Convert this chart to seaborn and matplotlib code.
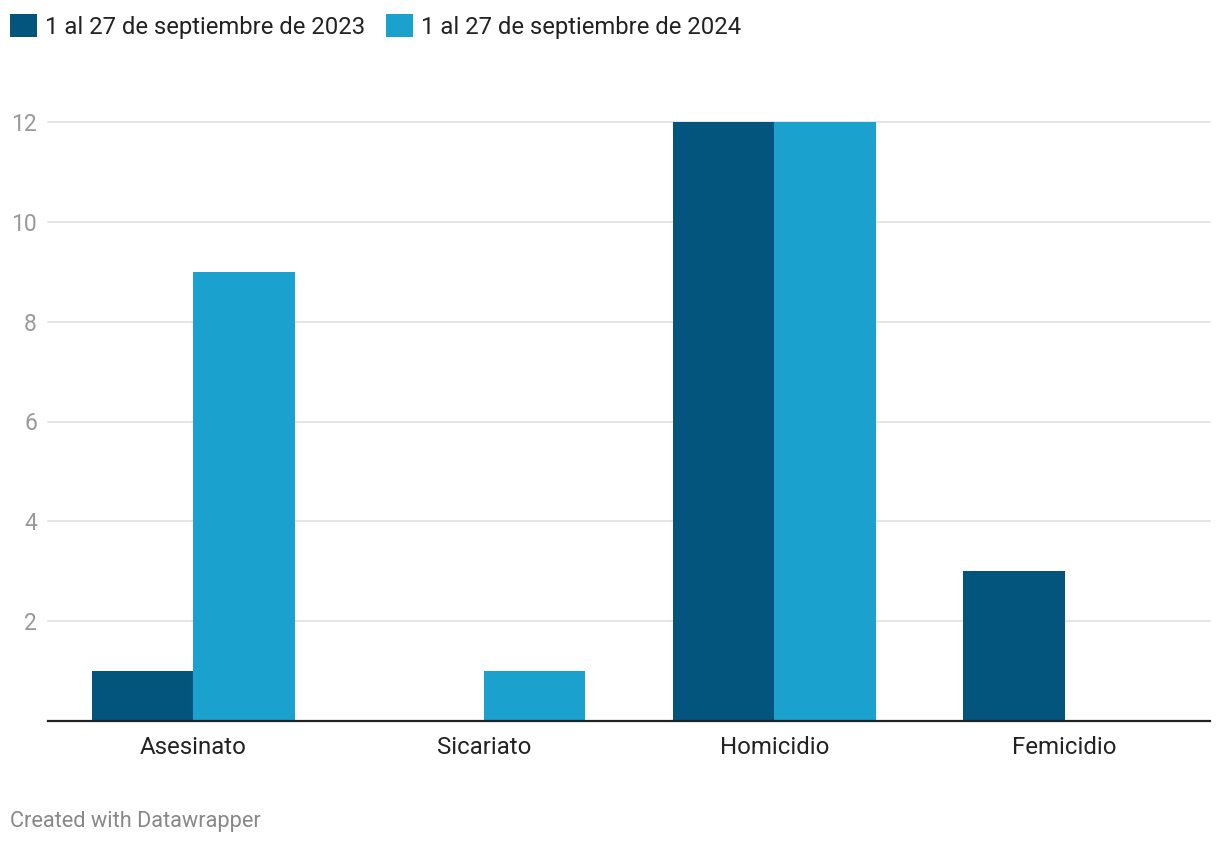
import pandas as pd
import matplotlib.pyplot as plt
import seaborn as sns
from matplotlib.patches import Patch

categories = ['Asesinato', 'Sicariato', 'Homicidio', 'Femicidio']
series_names = ['1 al 27 de septiembre de 2023', '1 al 27 de septiembre de 2024']
values_2023 = [1, 0, 12, 3]
values_2024 = [9, 1, 12, 0]
colors = ['#03557d', '#1aa1ce']
yticks = [2, 4, 6, 8, 10, 12]

df = pd.DataFrame({
    'categoria': categories * 2,
    'periodo': [series_names[0]] * 4 + [series_names[1]] * 4,
    'valor': values_2023 + values_2024,
})

sns.set_style('white')
plt.rcParams['font.family'] = ['Roboto', 'DejaVu Sans']

fig = plt.figure(figsize=(12.2, 8.44), dpi=100)
ax = fig.add_axes([48 / 1220, 1 - 721 / 844, (1210 - 48) / 1220, (721 - 122) / 844])

sns.barplot(data=df, x='categoria', y='valor', hue='periodo', palette=colors,
            width=0.7, dodge=True, saturation=1, legend=False, ax=ax)
for p in ax.patches:
    p.set_linewidth(0)

ax.set_xlim(-0.5, 3.5)
ax.set_ylim(0, 12)
ax.set_yticks(yticks)
ax.set_yticklabels([str(v) for v in yticks])
ax.yaxis.grid(True, color='#e0e0e0', linewidth=1.2)
ax.set_axisbelow(True)
for g in ax.get_ygridlines():
    g.set_clip_on(False)
ax.tick_params(axis='y', length=0, pad=8, labelsize=16.5, labelcolor='#999999')
ax.tick_params(axis='x', length=0, pad=11, labelsize=17.3, labelcolor='#222222')
ax.set_xlabel('')
ax.set_ylabel('')
for s in ['top', 'right', 'left']:
    ax.spines[s].set_visible(False)
ax.spines['bottom'].set_color('#222222')
ax.spines['bottom'].set_linewidth(1.6)

handles = [Patch(facecolor=c, edgecolor='none', label=n) for c, n in zip(colors, series_names)]
fig.legend(handles=handles, loc='upper left', bbox_to_anchor=(10 / 1220, 1 - 14 / 844), ncol=2,
           frameon=False, fontsize=17.2, handlelength=1.13, handleheight=1.13,
           handletextpad=0.33, columnspacing=0.88, borderpad=0, borderaxespad=0,
           labelcolor='#222222')

fig.text(10 / 1220, 1 - 821 / 844, 'Created with Datawrapper', fontsize=15.7,
         color='#888888', ha='left', va='center')

fig.savefig('out.png', dpi=100)
